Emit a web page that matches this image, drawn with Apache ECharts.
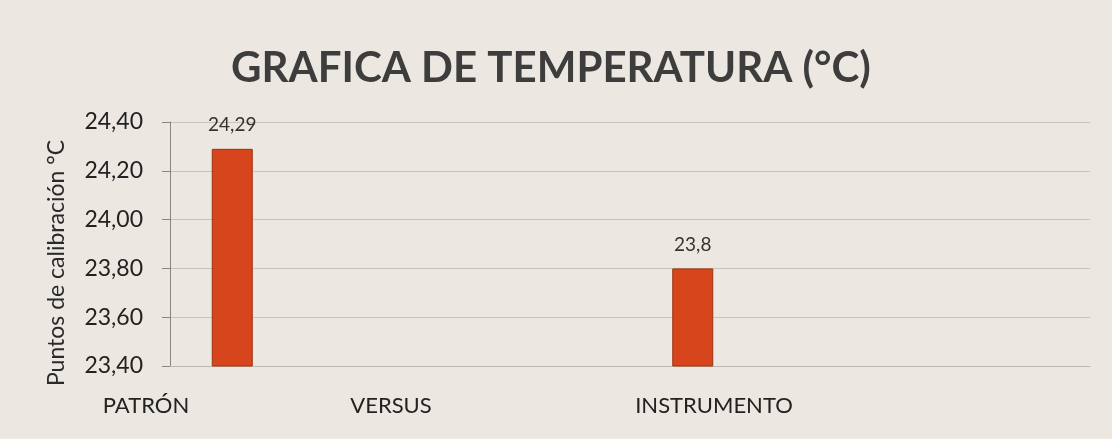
<!DOCTYPE html>
<html>
<head>
<meta charset="utf-8">
<script src="https://cdn.jsdelivr.net/npm/echarts@6/dist/echarts.min.js"></script>
<style>
  html, body { margin: 0; padding: 0; background: #ece8e1; }
  #chart { width: 1112px; height: 439px; }
</style>
</head>
<body>
<div id="chart"></div>
<script>
// axis labels under the plot
const categories = ['PATRÓN', 'VERSUS', 'INSTRUMENTO'];
// bars that are drawn
const barNames = ['PATRÓN', 'INSTRUMENTO'];
const temps = [24.29, 23.8];
const yMin = 23.4;
const yMax = 24.4;
const yStep = 0.2;

const comma = (v, d) => (d == null ? String(v) : Number(v).toFixed(d)).replace('.', ',');
const font = 'Lato, "Open Sans", sans-serif';

// where the category texts sit (x centre)
const labelX = [146, 391, 714];

const chart = echarts.init(document.getElementById('chart'));

const option = {
  backgroundColor: '#ece8e1',
  animation: false,
  title: {
    text: 'GRAFICA DE TEMPERATURA (°C)',
    left: 226,
    top: 42,
    textStyle: {
      fontFamily: font,
      fontWeight: 'bold',
      fontSize: 42,
      color: '#3d3d3d'
    }
  },
  grid: [
    { left: 170, right: 22, top: 122, bottom: 73, outerBoundsMode: 'none' },
    { left: 2, width: 921, top: 122, bottom: 73, outerBoundsMode: 'none' }
  ],
  xAxis: [
    {
      gridIndex: 0,
      type: 'category',
      data: categories,
      axisLine: { show: true, lineStyle: { color: '#bdb8b0' } },
      axisTick: { show: false },
      axisLabel: { show: false }
    },
    {
      gridIndex: 1,
      type: 'category',
      data: barNames,
      show: false
    }
  ],
  yAxis: [
    {
      gridIndex: 0,
      type: 'value',
      min: yMin,
      max: yMax,
      interval: yStep,
      name: 'Puntos de calibración °C',
      nameLocation: 'middle',
      nameGap: 102,
      nameTextStyle: {
        fontFamily: font,
        fontSize: 23,
        color: '#2a2a2a',
        padding: [0, 38, 0, 0]
      },
      axisLine: { show: true, lineStyle: { color: '#8a857e' } },
      axisTick: { show: true, length: 8, lineStyle: { color: '#8a857e' } },
      axisLabel: {
        margin: 27,
        fontFamily: font,
        fontSize: 23,
        color: '#222',
        formatter: v => comma(v, 2)
      },
      splitLine: { show: true, lineStyle: { color: '#c9c4bb' } }
    },
    {
      gridIndex: 1,
      type: 'value',
      min: yMin,
      max: yMax,
      show: false
    }
  ],
  series: [
    {
      type: 'bar',
      xAxisIndex: 1,
      yAxisIndex: 1,
      data: temps,
      barWidth: 41,
      itemStyle: { color: '#d6451b', borderColor: '#9e3211', borderWidth: 1 },
      label: {
        show: true,
        position: 'top',
        distance: 14,
        fontFamily: font,
        fontSize: 19,
        color: '#333',
        formatter: p => comma(p.value)
      }
    }
  ],
  graphic: categories.map((c, i) => ({
    type: 'text',
    x: labelX[i],
    y: 406,
    style: {
      text: c,
      fontFamily: font,
      fontSize: 22,
      fill: '#222',
      align: 'center',
      verticalAlign: 'middle'
    }
  }))
};

chart.setOption(option);
</script>
</body>
</html>
